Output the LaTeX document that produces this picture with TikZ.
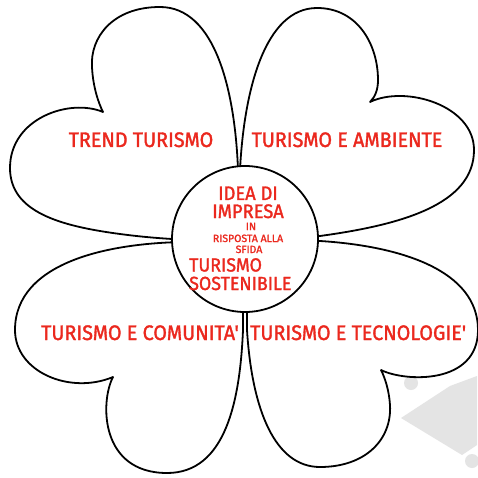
\documentclass[tikz,border=0pt]{standalone}
\usepackage{fontspec}
\setmainfont{Fira Sans}
\newfontfamily\lblfont{Fira Sans}[FakeBold=1.6]
\definecolor{txtred}{RGB}{235,40,30}
\definecolor{wmgray}{RGB}{228,228,228}
\begin{document}
\begin{tikzpicture}[x=1pt,y=-1pt,
  petal/.style={draw=black, line width=1.8pt, fill=white, line join=round},
  lbl/.style={text=txtred, inner sep=0pt, xscale=0.94, font=\lblfont\fontsize{21}{21}\selectfont},
  big/.style={text=txtred, inner sep=0pt, xscale=0.94, font=\lblfont\fontsize{19.5}{17}\selectfont},
  small/.style={text=txtred, inner sep=0pt, font=\lblfont\fontsize{10.5}{10.5}\selectfont}]
\useasboundingbox (0,0) rectangle (477,478);
\fill[white] (0,0) rectangle (477,478);
% faint watermark
\fill[wmgray] (401,418) -- (450,386) -- (477,376) -- (477,445) -- (462,455) -- cycle;
\fill[wmgray] (433,322) circle (7);
\fill[wmgray] (447,352) circle (7);
\fill[wmgray] (411,383) circle (7);
\fill[wmgray] (472,461) circle (7);
% top-left petal
\path[petal] (238,200) -- (238,170)
  .. controls (235,90) and (215,7) .. (160,7)
  .. controls (112,7) and (90,38) .. (92,67)
  .. controls (93,88) and (99,104) .. (103,112)
  .. controls (70,98) and (10,118) .. (10,168)
  .. controls (10,212) and (60,226) .. (120,234)
  .. controls (150,238) and (180,240) .. (205,240) -- cycle;
% top-right petal
\path[petal] (240,200) -- (240,170)
  .. controls (244,90) and (265,8) .. (317,8)
  .. controls (358,8) and (378,45) .. (378,80)
  .. controls (378,90) and (375,97) .. (370,102)
  .. controls (405,85) and (474,105) .. (474,150)
  .. controls (474,205) and (400,225) .. (320,236)
  -- (285,240) -- cycle;
% bottom-left petal
\path[petal] (205,242)
  .. controls (110,240) and (15,262) .. (15,330)
  .. controls (15,372) and (70,395) .. (113,377)
  .. controls (100,402) and (100,473) .. (167,473)
  .. controls (226,473) and (240,400) .. (243,330)
  -- (243,280) -- cycle;
% bottom-right petal
\path[petal] (247,280) -- (247,330)
  .. controls (252,410) and (275,467) .. (320,467)
  .. controls (365,467) and (392,440) .. (390,405)
  .. controls (389,390) and (385,378) .. (381,370)
  .. controls (405,382) and (478,385) .. (478,330)
  .. controls (478,270) and (400,246) .. (320,241)
  -- (285,240) -- cycle;
% centre
\node (c) [circle, draw=black, line width=1.8pt, fill=white, minimum size=146pt, inner sep=0pt] at (245,239) {};
% petal labels
\node (p1) [lbl, anchor=base] at (141,147) {TREND TURISMO};
\node (p2) [lbl, anchor=base] at (347,147) {TURISMO E AMBIENTE};
\node (p3) [lbl, anchor=base west] at (41,340) {TURISMO E COMUNITA'};
\node (p4) [lbl, anchor=base west] at (250,340) {TURISMO E TECNOLOGIE'};
% centre labels
\node (t1) [big, anchor=base] at (248,200) {IDEA DI};
\node (t2) [big, anchor=base] at (248,218) {IMPRESA};
\node (t3) [small, anchor=base] at (251,230) {IN};
\node (t4) [small, anchor=base] at (248,242) {RISPOSTA ALLA};
\node (t5) [small, anchor=base] at (249,253) {SFIDA};
\node (t6) [big, anchor=base west, align=left, font=\lblfont\fontsize{19}{18.5}\selectfont] at (189,290) {TURISMO\\SOSTENIBILE};
\end{tikzpicture}
\end{document}
